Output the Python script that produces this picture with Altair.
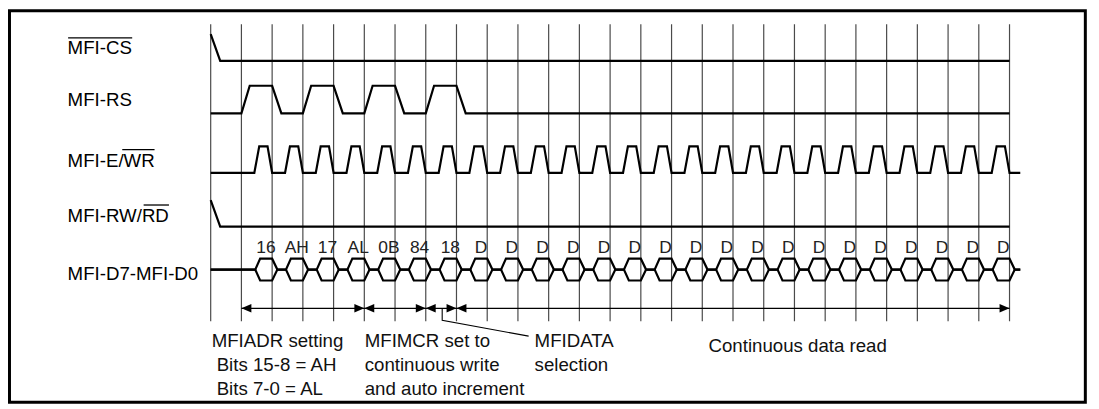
import altair as alt
import pandas as pd

# ---------------- data ----------------
signal_names = ["MFI-CS", "MFI-RS", "MFI-E/WR", "MFI-RW/RD", "MFI-D7-MFI-D0"]
grid_cycles = list(range(0, 27))            # cycle boundaries (vertical lines)
cs_levels = [1, 0]                          # high, then low from cycle 0
rs_high_cycles = [1, 3, 5, 7]               # MFI-RS high during these cycles
wr_pulse_cycles = list(range(1, 26))        # MFI-E/WR strobe in each of these cycles
rw_levels = [1, 0]                          # high, then low from cycle 0
bus_cycles = list(range(1, 26))
bus_values = ["16", "AH", "17", "AL", "0B", "84", "18"] + ["D"] * 18
phase_starts = [1, 5, 7, 8]
phase_ends = [5, 7, 8, 26]
phase_texts = [
    ["MFIADR setting", "Bits 15-8 = AH", "Bits 7-0 = AL"],
    ["MFIMCR set to", "continuous write", "and auto increment"],
    ["MFIDATA", "selection"],
    ["Continuous data read"],
]

# ---------------- layout / style ----------------
W, H = 1090, 397
ORG_X, ORG_Y = 8, 8
T0_PX = 212.0
PX_PER_CYCLE = (1016.0 - 212.0) / 26.0
FONT = "Liberation Sans, Arial, Helvetica, sans-serif"


def px2t(px):
    return (px - T0_PX) / PX_PER_CYCLE


x_scale = alt.Scale(domain=[px2t(ORG_X), px2t(ORG_X + W)], nice=False, zero=False)
y_scale = alt.Scale(domain=[ORG_Y, ORG_Y + H], reverse=True, nice=False, zero=False)

row_levels = {  # (high y, low y) in page pixels
    "MFI-CS": (33.0, 60.0),
    "MFI-RS": (85.0, 112.7),
    "MFI-E/WR": (146.0, 172.7),
    "MFI-RW/RD": (200.0, 226.7),
}
BUS_C, BUS_H = 270.0, 11.0
T_END = 26.0
T_TAIL = 26.35
label_x_px = 68.0
label_base = [53.3, 105.0, 166.7, 221.7, 280.7]
grid_top, grid_bot = 23.0, 322.0
arrow_y = 309.0

# ---------------- waveforms ----------------
rows = []


def add(sig, pts):
    for i, (t, y) in enumerate(pts):
        rows.append({"sig": sig, "i": i, "t": t, "y": y})


hi, lo = row_levels["MFI-CS"]
lv = {1: hi, 0: lo}
add("MFI-CS", [(0, lv[cs_levels[0]]), (0.31, lv[cs_levels[1]]), (T_END, lv[cs_levels[1]])])

hi, lo = row_levels["MFI-RS"]
pts = [(0, lo)]
for k in rs_high_cycles:
    pts += [(k, lo), (k + 0.27, hi), (k + 1, hi), (k + 1.3, lo)]
pts.append((T_END, lo))
add("MFI-RS", pts)

hi, lo = row_levels["MFI-E/WR"]
pts = [(0, lo)]
for k in wr_pulse_cycles:
    pts += [(k + 0.42, lo), (k + 0.58, hi), (k + 0.85, hi), (k + 1.0, lo)]
pts.append((T_TAIL, lo))
add("MFI-E/WR", pts)

hi, lo = row_levels["MFI-RW/RD"]
lv = {1: hi, 0: lo}
add("MFI-RW/RD", [(0, lv[rw_levels[0]]), (0.31, lv[rw_levels[1]]), (T_END, lv[rw_levels[1]])])

for name, sgn in (("bus_up", -1), ("bus_dn", 1)):
    pts = [(0, BUS_C)]
    for k in bus_cycles:
        pts += [(k + 0.45, BUS_C), (k + 0.61, BUS_C + sgn * BUS_H),
                (k + 1.0, BUS_C + sgn * BUS_H), (k + 1.17, BUS_C)]
    pts.append((T_TAIL, BUS_C))
    add(name, pts)

wave_df = pd.DataFrame(rows)

X = lambda f="t": alt.X(f"{f}:Q", scale=x_scale, axis=None)
Y = lambda f="y": alt.Y(f"{f}:Q", scale=y_scale, axis=None)

waves = alt.Chart(wave_df).mark_line(color="black", strokeWidth=2.2, strokeJoin="miter").encode(
    x=X(), y=Y(), detail="sig:N", order="i:Q")

grid_df = pd.DataFrame({"t": grid_cycles, "y": grid_top, "y2": grid_bot})
grid = alt.Chart(grid_df).mark_rule(color="#4a4a4a", strokeWidth=1.2).encode(
    x=X(), y=Y(), y2="y2:Q")

# signal labels
lab_df = pd.DataFrame({"t": px2t(label_x_px), "y": label_base, "txt": signal_names})
labels = alt.Chart(lab_df).mark_text(align="left", baseline="alphabetic", font=FONT,
                                     fontSize=18.8, color="black").encode(x=X(), y=Y(), text="txt:N")

# overlines (active-low)
ol_df = pd.DataFrame({
    "t": [px2t(68.5), px2t(123.0), px2t(144.5)],
    "t2": [px2t(133.0), px2t(155.5), px2t(170.0)],
    "y": [36.8, 149.3, 205.0],
})
overlines = alt.Chart(ol_df).mark_rule(color="black", strokeWidth=1.3).encode(
    x=X(), x2="t2:Q", y=Y())

# bus value labels
bv_df = pd.DataFrame({"t": [k + 0.8 for k in bus_cycles], "y": 253.3, "txt": bus_values})
bus_labels = alt.Chart(bv_df).mark_text(align="center", baseline="alphabetic", font=FONT,
                                        fontSize=17.5, color="#222").encode(x=X(), y=Y(), text="txt:N")

# dimension arrows
arr_line = alt.Chart(pd.DataFrame({"t": [min(phase_starts)], "t2": [max(phase_ends)], "y": [arrow_y]})).mark_rule(
    color="black", strokeWidth=1.2).encode(x=X(), x2="t2:Q", y=Y())
left_heads = alt.Chart(pd.DataFrame({"t": phase_starts, "y": arrow_y})).mark_point(
    shape="M0,0L2,-0.86L2,0.86Z", size=100, filled=True, color="black", opacity=1).encode(x=X(), y=Y())
right_heads = alt.Chart(pd.DataFrame({"t": phase_ends, "y": arrow_y})).mark_point(
    shape="M0,0L-2,-0.86L-2,0.86Z", size=100, filled=True, color="black", opacity=1).encode(x=X(), y=Y())

# callout line for MFIDATA selection
call_df = pd.DataFrame({"t": [px2t(445), px2t(445), px2t(532)], "y": [arrow_y, 321.0, 337.0], "i": [0, 1, 2]})
callout = alt.Chart(call_df).mark_line(color="black", strokeWidth=1.1).encode(x=X(), y=Y(), order="i:Q")

# phase descriptions
phase_x_px = [[213, 218, 218], [367, 367, 367], [538, 538], [713]]
phase_y_px = [[348.3, 372.5, 396.5], [348.3, 372.5, 396.5], [348.3, 372.5], [353.3]]
prow = []
for texts, xs, ys in zip(phase_texts, phase_x_px, phase_y_px):
    for s, xp, yp in zip(texts, xs, ys):
        prow.append({"t": px2t(xp), "y": yp, "txt": s})
phase_labels = alt.Chart(pd.DataFrame(prow)).mark_text(
    align="left", baseline="alphabetic", font=FONT, fontSize=18.8, color="#111").encode(
    x=X(), y=Y(), text="txt:N")

# outer frame
frame = alt.Chart(pd.DataFrame({"t": [px2t(9.5)], "t2": [px2t(1092.3)], "y": [9.5], "y2": [ORG_Y + H - 1.6]})).mark_rect(
    fillOpacity=0, stroke="black", strokeWidth=3).encode(x=X(), x2="t2:Q", y=Y(), y2="y2:Q")

chart = alt.layer(frame, grid, waves, overlines, labels, bus_labels, arr_line, left_heads, right_heads,
                  callout, phase_labels).properties(
    width=W, height=H, autosize=alt.AutoSizeParams(type="none"), padding=0,
    background="white").configure_view(stroke=None)

chart.save("out.html", embed_options={"renderer": "svg", "actions": False})
